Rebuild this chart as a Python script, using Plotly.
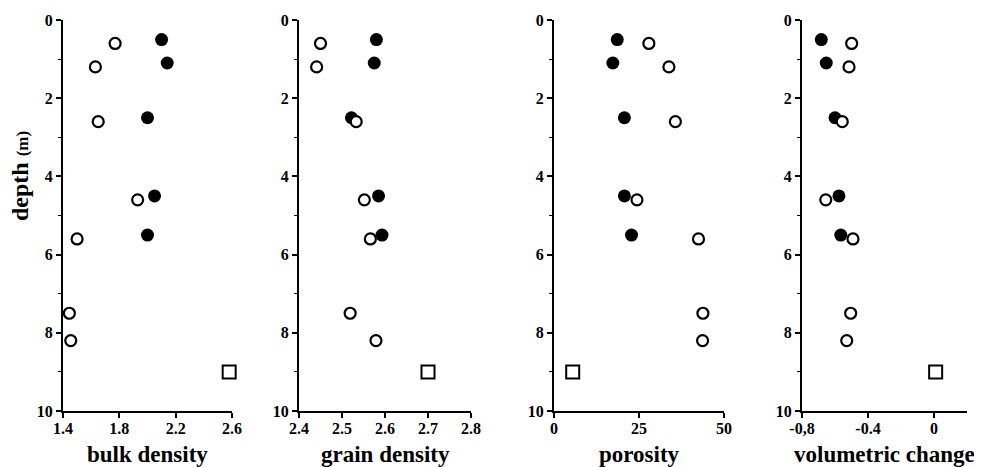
import plotly.graph_objects as go

# Depths (m)
depth_filled = [0.5, 1.1, 2.5, 4.5, 5.5]
depth_open = [0.6, 1.2, 2.6, 4.6, 5.6, 7.5, 8.2]
depth_square = [9.0]

# Panel values
bulk_filled = [2.10, 2.14, 2.00, 2.05, 2.00]
bulk_open = [1.77, 1.63, 1.65, 1.93, 1.50, 1.445, 1.455]
bulk_square = [2.58]

grain_filled = [2.580, 2.575, 2.522, 2.585, 2.593]
grain_open = [2.450, 2.441, 2.533, 2.552, 2.566, 2.519, 2.579]
grain_square = [2.70]

poro_filled = [18.6, 17.3, 20.7, 20.7, 22.8]
poro_open = [27.9, 33.8, 35.7, 24.4, 42.5, 43.8, 43.7]
poro_square = [5.5]

vol_filled = [-0.683, -0.653, -0.600, -0.576, -0.565]
vol_open = [-0.499, -0.515, -0.556, -0.656, -0.491, -0.505, -0.529]
vol_square = [0.01]

titles = ["bulk density", "grain density", "porosity", "volumetric change"]
xranges = [[1.4, 2.6], [2.4, 2.8], [0, 50], [-0.8, 0.2]]
xtickvals = [[1.4, 1.8, 2.2, 2.6], [2.4, 2.5, 2.6, 2.7, 2.8], [0, 25, 50], [-0.8, -0.4, 0]]
xticktext = [["1.4", "1.8", "2.2", "2.6"], ["2.4", "2.5", "2.6", "2.7", "2.8"],
             ["0", "25", "50"], ["-0,8", "-0.4", "0"]]
ytickvals = [0, 2, 4, 6, 8, 10]
yticktext = ["0", "2", "4", "6", "8", "10"]

panels = [
    (bulk_filled, bulk_open, bulk_square),
    (grain_filled, grain_open, grain_square),
    (poro_filled, poro_open, poro_square),
    (vol_filled, vol_open, vol_square),
]

W, H = 982, 467
OFF = 8  # page body margin offset


def px(p):
    return (p - OFF) / W


def py(p):
    return 1 - (p - OFF) / H


xdom_px = [(63, 232), (299, 471), (554, 724), (802, 967)]
ydom = [py(411), py(20)]

FONT = "Liberation Serif"
fig = go.Figure()
axes = {}

for i, (f, o, s) in enumerate(panels):
    n = "" if i == 0 else str(i + 1)
    xa, ya = "x" + n, "y" + n
    fig.add_trace(go.Scatter(x=f, y=depth_filled, mode="markers", xaxis=xa, yaxis=ya,
                             marker=dict(symbol="circle", size=13, color="black"),
                             cliponaxis=False, showlegend=False))
    fig.add_trace(go.Scatter(x=o, y=depth_open, mode="markers", xaxis=xa, yaxis=ya,
                             marker=dict(symbol="circle", size=11, color="white",
                                         line=dict(color="black", width=2.2)),
                             cliponaxis=False, showlegend=False))
    fig.add_trace(go.Scatter(x=s, y=depth_square, mode="markers", xaxis=xa, yaxis=ya,
                             marker=dict(symbol="square", size=13, color="white",
                                         line=dict(color="black", width=2)),
                             cliponaxis=False, showlegend=False))
    x0, x1 = xdom_px[i]
    tickfont = dict(family=FONT, size=16, color="black", weight="bold")
    axes["xaxis" + n] = dict(
        domain=[px(x0), px(x1)], range=xranges[i], anchor=ya, automargin=False,
        tickmode="array",
        tickvals=xtickvals[i], ticktext=["<b>%s</b>" % t for t in xticktext[i]],
        showline=True, linecolor="black", linewidth=2,
        ticks="outside", ticklen=5, tickwidth=2, tickcolor="black",
        ticklabelstandoff=-3,
        showgrid=False, zeroline=False, tickfont=tickfont,
    )
    axes["yaxis" + n] = dict(
        domain=ydom, range=[10, 0], anchor=xa, automargin=False,
        tickmode="array",
        tickvals=ytickvals, ticktext=["<b>%s</b>" % t for t in yticktext],
        showline=True, linecolor="black", linewidth=2,
        ticks="outside", ticklen=5, tickwidth=2, tickcolor="black",
        minor=dict(tickvals=[1, 3, 5, 7, 9], ticks="outside", ticklen=3,
                   tickwidth=1, tickcolor="black"),
        showgrid=False, zeroline=False, tickfont=tickfont,
    )
    fig.add_annotation(text="<b>%s</b>" % titles[i], xref="paper", yref="paper",
                       x=px((x0 + x1) / 2), y=py(454), xanchor="center", yanchor="middle",
                       showarrow=False, font=dict(family=FONT, size=23, color="black"))

fig.add_annotation(text="<b>depth <span style='font-size:17px'>(m)</span></b>",
                   xref="paper", yref="paper", x=px(20), y=py(176),
                   xanchor="center", yanchor="middle", textangle=-90, showarrow=False,
                   font=dict(family=FONT, size=24, color="black"))

fig.update_layout(width=W, height=H, margin=dict(l=0, r=0, t=0, b=0, autoexpand=False),
                  paper_bgcolor="white", plot_bgcolor="white",
                  font=dict(family=FONT, size=16, color="black"), **axes)

fig.write_html("out.html")
